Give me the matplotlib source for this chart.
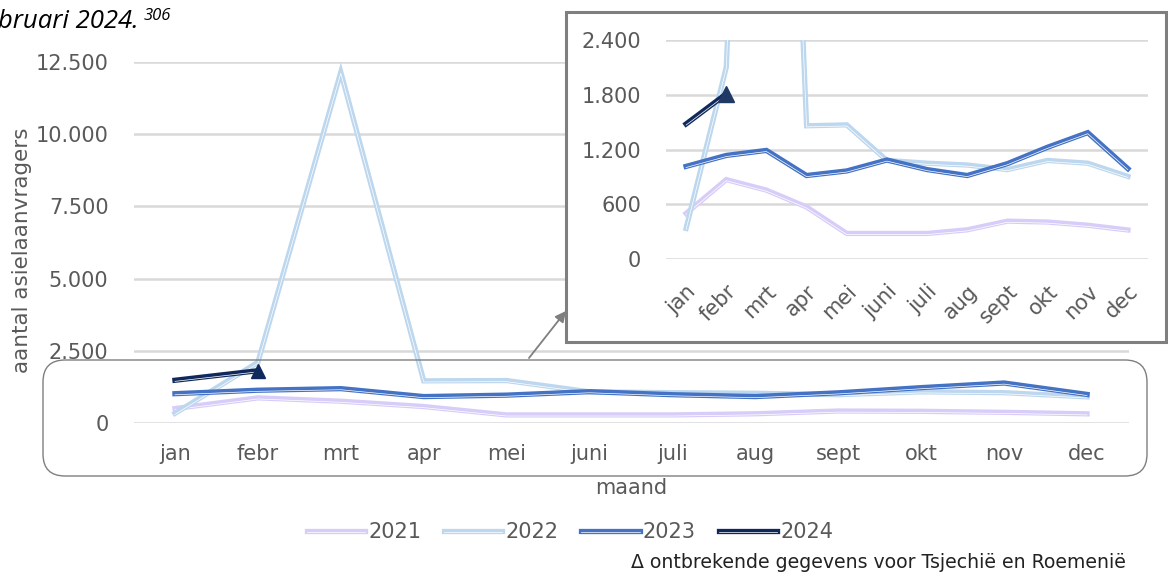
import matplotlib
matplotlib.use("Agg")
import matplotlib.pyplot as plt
import matplotlib.patheffects as pe
from matplotlib.patches import Rectangle, FancyBboxPatch, FancyArrowPatch
from matplotlib.transforms import IdentityTransform
from matplotlib.ticker import FuncFormatter

# monthly asylum applications
months = ["jan", "febr", "mrt", "apr", "mei", "juni", "juli", "aug", "sept", "okt", "nov", "dec"]
y2021 = [500, 870, 755, 570, 280, 280, 280, 320, 415, 405, 370, 318]
y2022 = [335, 2100, 12150, 1460, 1470, 1080, 1050, 1030, 980, 1080, 1050, 905]
y2023 = [1015, 1135, 1190, 915, 965, 1085, 980, 915, 1045, 1225, 1385, 990]
y2024 = [1480, 1810]

series = [("2021", y2021, "#d8cdf8"), ("2022", y2022, "#bdd7ee"),
          ("2023", y2023, "#4472c4"), ("2024", y2024, "#10295c")]

GRAY = "#595959"
W, H = 1168, 572

def fx(px):
    return px / W

def fy(py):
    return 1 - py / H

def dotted(v, pos):
    return f"{int(v):,}".replace(",", ".")

def line_fx(color):
    # coloured line with a thin white stripe along it
    return [pe.Stroke(linewidth=3.8, foreground=color),
            pe.Stroke(linewidth=0.5, foreground="white", offset=(0, -0.8))]

plt.rcParams["font.family"] = "DejaVu Sans"
fig = plt.figure(figsize=(W / 100, H / 100), dpi=100)

# main chart
ax = fig.add_axes([fx(133.5), fy(423), fx(1128.5) - fx(133.5), fy(62) - fy(423)])
for name, vals, col in series:
    ax.plot(range(len(vals)), vals, color=col, lw=3.8, label=name,
            path_effects=line_fx(col), solid_joinstyle="miter", clip_on=False)
ax.plot([1], [y2024[1]], marker="^", ms=10, color="#10295c", clip_on=False)
ax.set_xlim(-0.5, 11.5)
ax.set_ylim(0, 12500)
ax.set_yticks([0, 2500, 5000, 7500, 10000, 12500])
ax.yaxis.set_major_formatter(FuncFormatter(dotted))
ax.set_xticks(range(12))
ax.set_xticklabels(months)
ax.grid(axis="y", color="#d9d9d9", lw=1.8)
ax.set_axisbelow(True)
for s in ax.spines.values():
    s.set_visible(False)
ax.tick_params(length=0, labelsize=15, colors=GRAY)
ax.tick_params(axis="x", pad=15)
ax.tick_params(axis="y", pad=18)

fig.text(fx(631), fy(488), "maand", ha="center", va="center", fontsize=15, color=GRAY)
fig.text(fx(22), fy(250), "aantal asielaanvragers", rotation=90, ha="center",
         va="center", fontsize=15.5, color=GRAY)

# zoom box around the low values
fig.add_artist(FancyBboxPatch((43, H - 476), 1104, 116,
                              boxstyle="round,pad=0,rounding_size=22",
                              transform=IdentityTransform(), fc="none",
                              ec="#7f7f7f", lw=1.0, zorder=2))
fig.add_artist(FancyArrowPatch((529, H - 358), (566, H - 311),
                               transform=IdentityTransform(), arrowstyle="-|>",
                               mutation_scale=16, color="#7f7f7f", lw=1.3,
                               shrinkA=0, shrinkB=0, zorder=2))

# inset panel
fig.add_artist(Rectangle((566, H - 342), 600, 330, transform=IdentityTransform(),
                         fc="white", ec="#7f7f7f", lw=2.2, zorder=2))
ins = fig.add_axes([fx(666), fy(259), fx(1148) - fx(666), fy(40) - fy(259)], zorder=3)
ins.patch.set_alpha(0)
for name, vals, col in series:
    ins.plot(range(len(vals)), vals, color=col, lw=3.8,
             path_effects=line_fx(col), solid_joinstyle="miter")
ins.plot([1], [y2024[1]], marker="^", ms=11, color="#1f3864", clip_on=False)
ins.set_xlim(-0.5, 11.5)
ins.set_ylim(0, 2400)
ins.set_yticks([0, 600, 1200, 1800, 2400])
ins.yaxis.set_major_formatter(FuncFormatter(dotted))
ins.set_xticks(range(12))
ins.set_xticklabels(months, rotation=45, ha="right", rotation_mode="anchor")
ins.grid(axis="y", color="#d9d9d9", lw=1.8)
ins.set_axisbelow(True)
for s in ins.spines.values():
    s.set_visible(False)
ins.tick_params(length=0, labelsize=15, colors=GRAY)
ins.tick_params(axis="x", pad=16)
ins.tick_params(axis="y", pad=18)

# legend
handles, labels = ax.get_legend_handles_labels()
leg = fig.legend(handles, labels, loc="center", bbox_to_anchor=(fx(570), fy(532)),
                 ncol=4, frameon=False, fontsize=15, handlelength=2.8,
                 handletextpad=0.15, columnspacing=1.1)
for t in leg.get_texts():
    t.set_color(GRAY)

fig.text(fx(1126), fy(563), "\u0394 ontbrekende gegevens voor Tsjechië en Roemenië",
         ha="right", va="center", fontsize=13.6, color="#222222")

# caption fragment, running off the left edge
fig.text(fx(140), fy(28), "februari 2024.", ha="right", va="baseline",
         fontsize=18.5, style="italic", family="Open Sans", color="black")
fig.text(fx(144), fy(20), "306", ha="left", va="baseline",
         fontsize=12, style="italic", family="Open Sans", color="black")

fig.savefig("out.png", dpi=100)
